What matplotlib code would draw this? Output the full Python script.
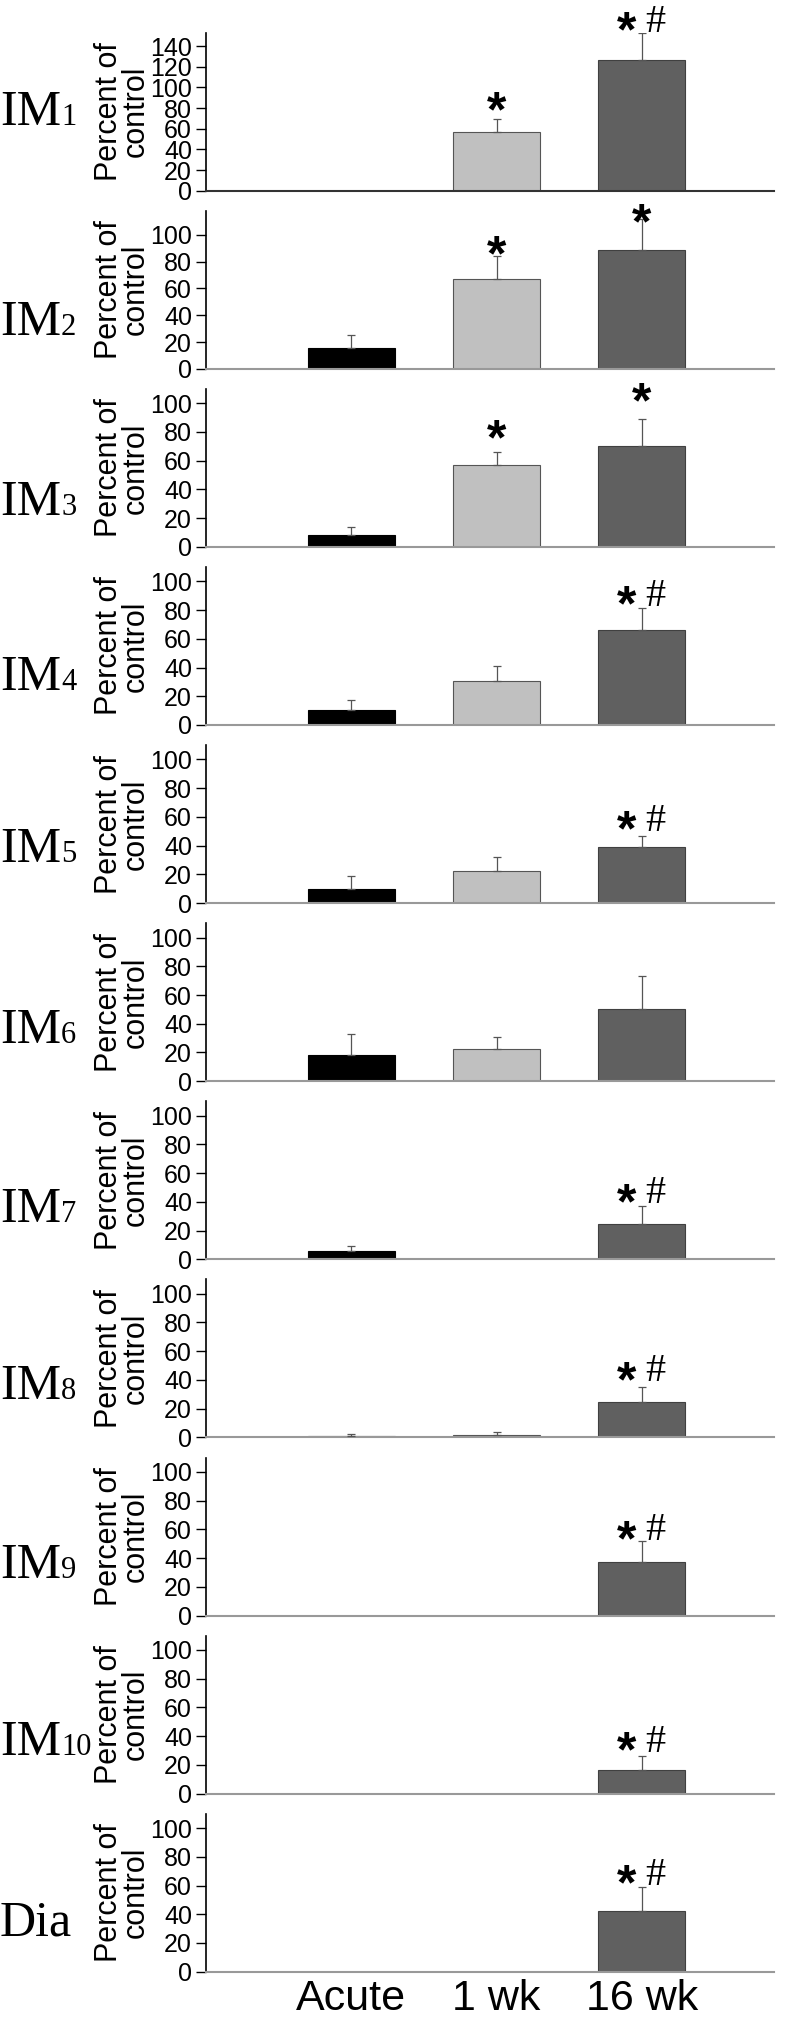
import matplotlib.pyplot as plt
import numpy as np

nan = np.nan

# groups and panels
categories = ["Acute", "1 wk", "16 wk"]
panel_names = ["IM", "IM", "IM", "IM", "IM", "IM", "IM", "IM", "IM", "IM", "Dia"]
panel_subs = ["1", "2", "3", "4", "5", "6", "7", "8", "9", "10", ""]

# mean values (percent of control), one entry per panel
acute_mean = [nan, 15.5, 8.1, 10.6, 9.5, 18.0, 5.5, 1.2, nan, nan, nan]
acute_err = [nan, 9.5, 6.0, 7.1, 9.3, 15.1, 3.7, 0.9, nan, nan, nan]
wk1_mean = [56.7, 67.0, 57.2, 30.4, 22.3, 22.4, nan, 1.8, nan, nan, nan]
wk1_err = [13.2, 17.3, 8.6, 10.8, 9.7, 8.4, nan, 2.1, nan, nan, nan]
wk16_mean = [126.8, 88.5, 70.4, 66.4, 39.2, 50.0, 24.7, 24.5, 37.3, 16.6, 42.0]
wk16_err = [25.7, 23.5, 18.5, 14.9, 7.4, 22.9, 12.2, 10.8, 14.9, 9.3, 16.9]

# significance marks: (panel, group, has_hash, y of the mark)
marks = [
    (0, 1, False, 90), (0, 2, True, 167),
    (1, 1, False, 95), (1, 2, False, 119),
    (2, 1, False, 84), (2, 2, False, 110),
    (3, 2, True, 92.7),
    (4, 2, True, 60),
    (6, 2, True, 48.5),
    (7, 2, True, 48.7),
    (8, 2, True, 62),
    (9, 2, True, 38.8),
    (10, 2, True, 70),
]

y_max = [153, 118, 110, 110, 110, 110, 110, 110, 110, 110, 110]
y_ticks_top = [140, 100, 100, 100, 100, 100, 100, 100, 100, 100, 100]

bar_colors = ["#000000", "#c0c0c0", "#606060"]
edge_colors = ["#000000", "#555555", "#404040"]

sans = ["Liberation Sans", "DejaVu Sans"]
narrow = ["Liberation Sans Narrow", "Liberation Sans", "DejaVu Sans"]
serif = ["Liberation Serif", "DejaVu Serif"]

W, H = 790, 2022
fig = plt.figure(figsize=(W / 100, H / 100), dpi=100)
renderer = fig.canvas.get_renderer()

# centre of the big panel label, pixels above the zero line
label_mid = [82, 50, 48, 52, 58, 55, 54, 55, 54, 55, 53]
label_fs = 36
sub_fs = 22

means = [acute_mean, wk1_mean, wk16_mean]
errs = [acute_err, wk1_err, wk16_err]

axes = []
for i in range(len(panel_names)):
    zero = 190.7 + i * 178.1
    ax = fig.add_axes([206 / W, 1 - zero / H, (774 - 206) / W, 158 / H])
    axes.append(ax)

    for j in range(3):
        m = means[j][i]
        e = errs[j][i]
        if np.isnan(m):
            continue
        ax.bar(j, m, width=0.6, color=bar_colors[j], edgecolor=edge_colors[j],
               linewidth=0.8, zorder=2)
        ax.errorbar(j, m, yerr=[[0], [e]], fmt='none', ecolor='#555555',
                    elinewidth=0.9, capsize=3, capthick=0.9, zorder=3)

    ax.set_xlim(-1, 2.91)
    ax.set_ylim(0, y_max[i])
    ax.set_yticks(np.arange(0, y_ticks_top[i] + 1, 20))
    ax.tick_params(axis='y', length=7, width=1, labelsize=18, pad=3)
    for lab in ax.get_yticklabels():
        lab.set_family(narrow)
    ax.spines['top'].set_visible(False)
    ax.spines['right'].set_visible(False)
    ax.spines['left'].set_linewidth(1.2)
    ax.spines['bottom'].set_linewidth(1.5)
    ax.spines['bottom'].set_color('#333333' if i == 0 else '#999999')

    if i == len(panel_names) - 1:
        ax.set_xticks([0, 1, 2])
        ax.set_xticklabels(categories, fontsize=31, family=narrow)
        ax.tick_params(axis='x', length=0, pad=5)
    else:
        ax.set_xticks([])

    # y label
    fig.text(122 / W, 1 - (zero - 79) / H, "Percent of\ncontrol", rotation=90,
             ha='center', va='center', fontsize=22, family=sans, linespacing=0.85)

    # panel label, like IM with a smaller digit after it
    cap = 0.662 * label_fs * 100 / 72
    base_y = 1 - (zero - label_mid[i] + cap / 2) / H
    t = fig.text(0, base_y, panel_names[i], fontsize=label_fs, family=serif,
                 va='baseline', ha='left')
    if panel_subs[i]:
        bb = t.get_window_extent(renderer)
        fig.text(bb.x1 / W, base_y, panel_subs[i], fontsize=sub_fs,
                 family=serif, va='baseline', ha='left')

# significance marks, placed by the centre of the glyph
star_fs = 36
hash_fs = 29
for i, j, has_hash, y in marks:
    ax = axes[i]
    if has_hash:
        ax.annotate("*", (j, y), xytext=(-11, -0.57 * star_fs),
                    textcoords='offset points', ha='center', va='baseline',
                    fontsize=star_fs, fontweight='bold', family=sans,
                    annotation_clip=False)
        ax.annotate("#", (j, y), xytext=(10, -0.34 * hash_fs),
                    textcoords='offset points', ha='center', va='baseline',
                    fontsize=hash_fs, family=serif, annotation_clip=False)
    else:
        ax.annotate("*", (j, y), xytext=(0, -0.57 * star_fs),
                    textcoords='offset points', ha='center', va='baseline',
                    fontsize=star_fs, fontweight='bold', family=sans,
                    annotation_clip=False)

fig.savefig("out.png", dpi=100)
